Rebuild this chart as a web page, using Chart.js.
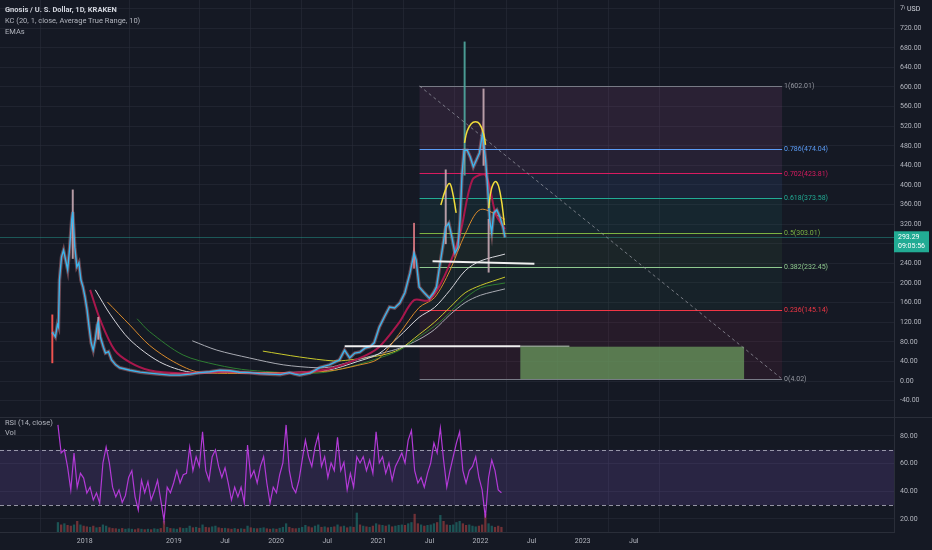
<!DOCTYPE html>
<html><head><meta charset="utf-8">
<script src="https://cdn.jsdelivr.net/npm/chart.js@4.4.1/dist/chart.umd.min.js"></script>
<style>
html,body{margin:0;padding:0;background:#151924;width:932px;height:550px;overflow:hidden;}
#wrap{position:relative;width:932px;height:550px;}
#c1{position:absolute;left:0;top:0;}
#c2{position:absolute;left:0;top:418px;}
.lg{position:absolute;left:5px;font-family:Roboto,"Noto Sans",sans-serif;font-size:7.5px;color:#b2b5be;white-space:nowrap;line-height:10px;}
</style></head><body>
<div id="wrap">
<canvas id="c1" width="932" height="418" style="width:932px;height:418px"></canvas>
<canvas id="c2" width="932" height="132" style="width:932px;height:132px"></canvas>
<div class="lg" style="top:5px;color:#d1d4dc;font-weight:bold">Gnosis / U. S. Dollar, 1D, KRAKEN</div>
<div class="lg" style="top:16px">KC (20, 1, close, Average True Range, 10)</div>
<div class="lg" style="top:27px">EMAs</div>
<div class="lg" style="top:418px">RSI (14, close)</div>
<div class="lg" style="top:428px">Vol</div>
</div>
<script>
// ---------- DATA ----------
const priceDates = [2017.81,2017.84,2017.86,2017.87,2017.88,2017.90,2017.92,2017.94,2017.96,2017.98,2018.00,2018.01,2018.03,2018.05,2018.07,2018.09,2018.11,2018.13,2018.15,2018.17,2018.19,2018.21,2018.23,2018.25,2018.26,2018.28,2018.31,2018.33,2018.36,2018.39,2018.43,2018.47,2018.57,2018.67,2018.76,2018.86,2018.96,2019.06,2019.16,2019.25,2019.35,2019.45,2019.55,2019.64,2019.74,2019.84,2019.94,2020.04,2020.13,2020.18,2020.23,2020.33,2020.43,2020.52,2020.62,2020.67,2020.72,2020.77,2020.82,2020.87,2020.92,2020.96,2021.01,2021.06,2021.11,2021.16,2021.21,2021.26,2021.31,2021.35,2021.37,2021.40,2021.45,2021.50,2021.54,2021.57,2021.60,2021.63,2021.66,2021.69,2021.72,2021.75,2021.78,2021.80,2021.82,2021.84,2021.87,2021.90,2021.93,2021.96,2021.99,2022.02,2022.05,2022.07,2022.09,2022.11,2022.13,2022.16,2022.19,2022.22,2022.24];
const priceClose = [100,90,115,110,206,253,267,247,227,273,330,345,273,233,241,206,192,171,145,110,78,63,84,115,120,90,69,57,60,43,33,27,22,18,16,14,12,12,14,17,19,22,21,18,17,15,14,13,17,14,12,16,28,33,43,63,47,57,59,67,70,78,110,131,151,149,159,180,220,261,247,192,180,169,180,192,233,273,314,322,294,261,273,329,424,471,471,457,437,451,465,506,451,396,329,302,343,349,335,314,293];
const lastPrice = 293.29;
const wickDates = [2017.81,2018.01,2018.26,2021.35,2021.66,2021.845,2022.03,2022.08];
const wickLow   = [37,250,85,230,280,420,440,222];
const wickHigh  = [135,390,130,322,431,692,596,330];

const emaRedX = [2018.18,2018.28,2018.42,2018.57,2018.76,2019.06,2019.5,2020.0,2020.5,2020.8,2021.0,2021.2,2021.35,2021.5,2021.65,2021.8,2021.92,2022.05,2022.15,2022.24];
const emaRedY = [186,124,63,38,22,16,19,15,24,45,68,118,165,165,215,300,410,420,340,310];
const emaWhiteX = [2018.23,2018.38,2018.57,2018.86,2019.16,2019.6,2020.0,2020.5,2020.8,2021.0,2021.2,2021.4,2021.55,2021.7,2021.85,2022.0,2022.24];
const emaWhiteY = [186,135,84,39,18,18,17,22,40,55,90,130,150,185,225,245,259];
const emaOrangeX = [2018.35,2018.57,2018.76,2019.0,2019.25,2020.0,2020.5,2020.8,2021.0,2021.2,2021.4,2021.55,2021.7,2021.85,2022.0,2022.24];
const emaOrangeY = [161,114,73,39,18,17,20,32,45,95,150,170,225,300,350,330];
const emaGreenX = [2018.64,2018.76,2019.09,2019.42,2019.74,2020.4,2020.72,2021.04,2021.21,2021.4,2021.6,2021.8,2022.0,2022.24];
const emaGreenY = [127,101,53,33,22,16,29,49,63,90,120,160,190,200];
const emaGrayX = [2019.18,2019.42,2019.74,2020.07,2020.4,2020.55,2020.72,2021.04,2021.21,2021.4,2021.55,2021.7,2021.85,2022.0,2022.24];
const emaGrayY = [82,63,47,33,27,29,39,57,67,85,105,135,160,175,188];
const emaYellowX = [2019.87,2020.23,2020.56,2020.72,2021.04,2021.21,2021.4,2021.55,2021.7,2021.85,2022.0,2022.24];
const emaYellowY = [61,49,41,43,53,65,95,120,150,180,195,212];

const fibRatios = [1,0.786,0.702,0.618,0.5,0.382,0.236,0];
const fibValues = [602.01,474.04,423.81,373.58,303.01,232.45,145.14,4.02];
const fibStart = 2021.404, fibEnd = 2024.952;
const zoneX = [2022.39, 2024.58], zoneY = [4.02, 70];
const neck1X = [2020.671, 2022.39], neck1Y = [71, 71];
const neck1ExtX = [2022.39, 2022.87], neck1ExtY = [71, 71];
const neck2X = [2021.531, 2022.528], neck2Y = [244.5, 239.5];
const arcLeftX = [2021.612,2021.658,2021.697,2021.726,2021.762];
const arcLeftY = [359,390,403,386,343];
const arcMidX = [2021.844,2021.87,2021.91,2021.951,2021.99,2022.03,2022.05];
const arcMidY = [486,510,525,529,525,505,482];
const arcRightX = [2022.081,2022.108,2022.153,2022.196,2022.235];
const arcRightY = [353,392,407,380,318];

const rsiStart = 2017.865, rsiStep = 0.03145;
const rsiValues = [88,67.7,70,57.6,41,67.7,43,53,49.6,38.8,43,33.7,38.8,31.5,60.5,72,60.5,43,36,41,32,37,50,55,36,26.5,48,39,47,33.7,40,48,33.7,19,43,39,46,55,46,52,53,72,55,65,58,83,55,48,65,70,58,50,57,46,33.7,43,36,43,31.5,73.5,50,55,46,58,65,46,31.5,43,39,52,60.5,88,55,43,39,48,62.6,77,65,58,72,80.7,58,65,50,60.5,55,79,55,61,41,53,43,65,60.5,65,55,62.6,53,83,60.5,65,53,60.5,48,58,62.6,67.7,60.5,77,84,55,46,50,43,53,60.5,75,67.7,85.8,62.6,43,55,65,75,83,55,46,55,58,65,50,41,21,50,62.6,55,41,39];
const volValues = [40,30,35,28,25,30,45,30,25,22,20,25,18,20,30,25,18,15,14,12,15,12,14,12,10,14,12,10,12,10,14,12,15,45,20,15,14,12,18,15,16,25,18,20,16,30,20,18,22,25,18,15,16,14,12,15,12,14,12,25,18,15,14,16,18,14,12,14,12,16,20,35,20,15,14,16,20,28,22,18,25,30,20,22,18,20,22,30,22,25,18,22,20,80,30,25,22,20,25,35,30,28,25,30,22,25,28,30,28,35,40,75,35,30,25,28,30,35,40,70,45,30,28,30,40,45,35,28,30,25,22,25,30,75,35,25,20,25,20];

const priceTicks = [-40,0,40,80,120,160,200,240,280,320,360,400,440,480,520,560,600,640,680,720,760];
const rsiTicks = [20,40,60,80];
const timeTickValues = [2018.127,2019,2019.5,2020,2020.5,2021,2021.5,2022,2022.5,2023,2023.5];
const timeTickLabels = ['2018','2019','Jul','2020','Jul','2021','Jul','2022','Jul','2023','Jul'];

// ---------- STYLE ----------
const X_MIN = 2017.298, X_MAX = 2026.047;
const GRID = 'rgba(42,46,58,0.55)';
const AXIS_TXT = '#b2b5be';
const fibLineColors = ['#787b86','#5b9cf6','#d81b60','#22ab94','#7cb342','#8fc98f','#f23645','#787b86'];
const fibFillColors = ['rgba(150,80,135,0.17)','rgba(140,80,150,0.15)','rgba(60,95,160,0.17)','rgba(30,130,125,0.13)','rgba(70,130,70,0.12)','rgba(45,110,80,0.11)','rgba(140,40,75,0.15)'];
Chart.defaults.font.family = 'Roboto, "Noto Sans", sans-serif';
Chart.defaults.font.size = 7;
Chart.defaults.color = AXIS_TXT;

const zip = (xs, ys) => xs.map((x, i) => ({x, y: ys[i]}));
const lineDs = (xs, ys, color, w, order, extra) => Object.assign({
  data: zip(xs, ys), borderColor: color, borderWidth: w, pointRadius: 0, tension: 0.3, fill: false, order
}, extra || {});

const rsiDates = rsiValues.map((_, i) => rsiStart + i * rsiStep);

const xScaleCommon = {
  type: 'linear', min: X_MIN, max: X_MAX, offset: false,
  afterBuildTicks: s => { s.ticks = timeTickValues.map(v => ({value: v})); },
  grid: {color: GRID, drawTicks: false},
  border: {display: false},
};

// ---------- MAIN CHART ----------
const mainPlugin = {
  id: 'mainDraw',
  beforeDatasetsDraw(chart) {
    const {ctx, chartArea: a, scales: {x, y}} = chart;
    ctx.save();
    ctx.beginPath(); ctx.rect(a.left, a.top, a.right - a.left, a.bottom - a.top); ctx.clip();
    const yp = y.getPixelForValue(lastPrice);
    ctx.strokeStyle = 'rgba(38,166,154,0.45)'; ctx.lineWidth = 1;
    ctx.beginPath(); ctx.moveTo(a.left, Math.round(yp) + 0.5); ctx.lineTo(a.right, Math.round(yp) + 0.5); ctx.stroke();
    const x0 = x.getPixelForValue(fibStart), x1 = x.getPixelForValue(fibEnd);
    for (let i = 0; i < fibValues.length - 1; i++) {
      const ya = y.getPixelForValue(fibValues[i]), yb = y.getPixelForValue(fibValues[i + 1]);
      ctx.fillStyle = fibFillColors[i];
      ctx.fillRect(x0, ya, x1 - x0, yb - ya);
    }
    fibValues.forEach((v, i) => {
      const yy = Math.round(y.getPixelForValue(v)) + 0.5;
      ctx.strokeStyle = fibLineColors[i]; ctx.lineWidth = 1;
      ctx.beginPath(); ctx.moveTo(x0, yy); ctx.lineTo(x1, yy); ctx.stroke();
    });
    const zx0 = x.getPixelForValue(zoneX[0]), zx1 = x.getPixelForValue(zoneX[1]);
    const zy0 = y.getPixelForValue(zoneY[1]), zy1 = y.getPixelForValue(zoneY[0]);
    ctx.fillStyle = 'rgba(104,150,92,0.78)';
    ctx.fillRect(zx0, zy0, zx1 - zx0, zy1 - zy0);
    ctx.restore();
  },
  afterDatasetsDraw(chart) {
    const {ctx, scales: {x, y}} = chart;
    ctx.save();
    ctx.font = '7px Roboto, "Noto Sans", sans-serif';
    ctx.textBaseline = 'middle'; ctx.textAlign = 'left';
    const x1 = x.getPixelForValue(fibEnd);
    fibValues.forEach((v, i) => {
      ctx.fillStyle = fibLineColors[i] === '#787b86' ? '#9598a1' : fibLineColors[i];
      ctx.fillText(fibRatios[i] + '(' + v.toFixed(2) + ')', x1 + 2, y.getPixelForValue(v) + 0.5);
    });
    ctx.restore();
  },
  afterDraw(chart) {
    const {ctx, chartArea: a, scales: {y}} = chart;
    ctx.save();
    const yp = y.getPixelForValue(lastPrice);
    ctx.fillStyle = '#22ab94';
    ctx.fillRect(a.right, yp - 6, 35, 21);
    ctx.fillStyle = '#ffffff';
    ctx.font = '7px Roboto, "Noto Sans", sans-serif';
    ctx.textBaseline = 'middle'; ctx.textAlign = 'left';
    ctx.fillText(lastPrice.toFixed(2), a.right + 4, yp);
    ctx.fillText('09:05:56', a.right + 4, yp + 9);
    ctx.fillStyle = '#151924';
    ctx.fillRect(a.right + 11, 2, 26, 14);
    ctx.fillStyle = '#d1d4dc';
    ctx.fillText('USD', a.right + 13, 9.5);
    ctx.strokeStyle = '#2a2e39'; ctx.lineWidth = 1;
    ctx.beginPath(); ctx.moveTo(0, chart.height - 0.5); ctx.lineTo(chart.width, chart.height - 0.5); ctx.stroke();
    ctx.restore();
  }
};

new Chart(document.getElementById('c1'), {
  type: 'line',
  data: {datasets: [
    lineDs(arcLeftX, arcLeftY, '#f2dd3c', 1.5, 0, {tension: 0.45}),
    lineDs(arcMidX, arcMidY, '#f2dd3c', 1.5, 0, {tension: 0.45}),
    lineDs(arcRightX, arcRightY, '#f2dd3c', 1.5, 0, {tension: 0.45}),
    lineDs(neck1X, neck1Y, '#f0f0f0', 2, 0, {tension: 0}),
    lineDs(neck1ExtX, neck1ExtY, 'rgba(200,225,200,0.6)', 1.5, 0, {tension: 0}),
    lineDs(neck2X, neck2Y, '#f0f0f0', 2, 0, {tension: 0}),
    lineDs([fibStart, fibEnd], [fibValues[0], fibValues[fibValues.length - 1]], 'rgba(150,152,162,0.75)', 1, 0, {tension: 0, borderDash: [3, 3]}),
    lineDs(priceDates, priceClose, '#3cb6ec', 1.4, 1, {tension: 0}),
    lineDs(priceDates, priceClose, 'rgba(230,140,150,0.4)', 3.5, 2, {tension: 0}),
    {type: 'bar', data: wickDates.map((d, i) => ({x: d, y: [wickLow[i], wickHigh[i]]})),
     backgroundColor: ['#ef5350','rgba(200,170,180,0.9)','rgba(200,170,180,0.9)','rgba(220,120,130,0.9)','rgba(200,170,180,0.9)','rgba(80,170,160,0.9)','rgba(200,170,180,0.9)','rgba(200,170,180,0.9)'],
     barThickness: 1.3, borderWidth: 0, order: 3},
    lineDs(emaRedX, emaRedY, '#a8174c', 2, 4),
    lineDs(emaOrangeX, emaOrangeY, '#d98a2b', 1, 5),
    lineDs(emaWhiteX, emaWhiteY, '#d6d6dc', 1, 6),
    lineDs(emaGreenX, emaGreenY, '#2e7d32', 1, 7),
    lineDs(emaGrayX, emaGrayY, '#a9abb3', 1, 8),
    lineDs(emaYellowX, emaYellowY, '#c9c92c', 1, 9),
  ]},
  options: {
    responsive: false, animation: false, events: [],
    layout: {padding: 0},
    plugins: {legend: {display: false}, tooltip: {enabled: false}},
    scales: {
      x: Object.assign({}, xScaleCommon, {ticks: {display: false}, afterFit: s => { s.height = 0; s.paddingLeft = 0; s.paddingRight = 0; }}),
      y: {
        position: 'right', min: -75.5, max: 777.5,
        afterBuildTicks: s => { s.ticks = priceTicks.map(v => ({value: v})); },
        afterFit: s => { s.width = 38; s.paddingTop = 0; s.paddingBottom = 0; },
        ticks: {padding: 6, autoSkip: false, color: AXIS_TXT, callback: v => v.toFixed(2)},
        grid: {color: GRID, drawTicks: false},
        border: {display: true, color: '#2a2e39'}
      }
    }
  },
  plugins: [mainPlugin]
});

// ---------- RSI CHART ----------
const rsiPlugin = {
  id: 'rsiBand',
  beforeDatasetsDraw(chart) {
    const {ctx, chartArea: a, scales: {y}} = chart;
    ctx.save();
    const y70 = y.getPixelForValue(70), y30 = y.getPixelForValue(30);
    ctx.fillStyle = 'rgba(126,87,194,0.2)';
    ctx.fillRect(a.left, y70, a.right - a.left, y30 - y70);
    ctx.strokeStyle = 'rgba(190,190,205,0.75)'; ctx.lineWidth = 1; ctx.setLineDash([4, 3]);
    [y70, y30].forEach(yy => { ctx.beginPath(); ctx.moveTo(a.left, Math.round(yy) + 0.5); ctx.lineTo(a.right, Math.round(yy) + 0.5); ctx.stroke(); });
    ctx.restore();
  }
};

new Chart(document.getElementById('c2'), {
  type: 'line',
  data: {datasets: [
    {data: zip(rsiDates, rsiValues), borderColor: '#b23ad6', borderWidth: 1.2, pointRadius: 0, tension: 0, yAxisID: 'y', order: 0},
    {type: 'bar', data: zip(rsiDates, volValues), yAxisID: 'yv', order: 1, barThickness: 1.6, borderWidth: 0,
     backgroundColor: rsiValues.map((v, i) => (i === 0 || v >= rsiValues[i - 1]) ? 'rgba(38,166,154,0.42)' : 'rgba(239,83,80,0.42)')}
  ]},
  options: {
    responsive: false, animation: false, events: [],
    layout: {padding: 0},
    plugins: {legend: {display: false}, tooltip: {enabled: false}},
    scales: {
      x: Object.assign({}, xScaleCommon, {
        ticks: {autoSkip: false, maxRotation: 0, padding: 5, color: AXIS_TXT, callback: (v, i) => timeTickLabels[i]},
        border: {display: true, color: '#2a2e39'},
        afterFit: s => { s.height = 18; s.paddingLeft = 0; s.paddingRight = 0; }
      }),
      y: {
        position: 'right', min: 10.6, max: 93,
        afterBuildTicks: s => { s.ticks = rsiTicks.map(v => ({value: v})); },
        afterFit: s => { s.width = 38; s.paddingTop = 0; s.paddingBottom = 0; },
        ticks: {padding: 6, autoSkip: false, color: AXIS_TXT, callback: v => v.toFixed(2)},
        grid: {color: GRID, drawTicks: false},
        border: {display: true, color: '#2a2e39'}
      },
      yv: {display: false, min: 0, max: 480}
    }
  },
  plugins: [rsiPlugin]
});
</script>
</body></html>
